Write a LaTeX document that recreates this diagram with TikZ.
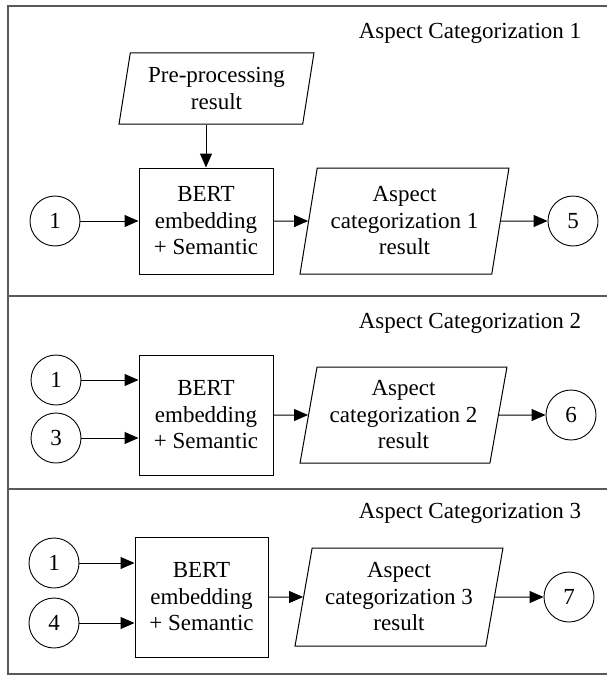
\documentclass[tikz,border=0pt]{standalone}
\usepackage{fontspec}
\setmainfont{Liberation Serif}
\usetikzlibrary{shapes.geometric,arrows.meta}
\begin{document}
\begin{tikzpicture}[x=1pt,y=-1pt,
  every node/.style={font=\fontsize{23}{26.5}\selectfont},
  proc/.style={draw, line width=1pt, rectangle, inner sep=0pt, align=center},
  io/.style={draw, line width=1pt, trapezium, trapezium left angle=78,
    trapezium right angle=102, trapezium stretches=true, inner sep=0pt, align=center},
  conn/.style={draw, circle, line width=0.9pt, minimum size=50pt, inner sep=0pt},
  arr/.style={line width=1pt, -{Triangle[length=14pt,width=12pt]}},
  frame/.style={line width=2pt, draw=black!65},
  ttl/.style={anchor=center, inner sep=0pt}
]
\useasboundingbox (0,0) rectangle (607,677);
% frame
\draw[frame] (607,6) -- (8,6) -- (8,674) -- (607,674);
\draw[frame] (8,296) -- (607,296);
\draw[frame] (8,489) -- (607,489);

% Section 1
\node[ttl] (t1) at (470,33) {Aspect Categorization 1};
\node[io, minimum width=195pt, minimum height=71pt] (pre) at (216.5,88.5) {Pre-processing\\result};
\node[proc, minimum width=134pt, minimum height=106pt] (box1) at (206,221) {BERT\\embedding\\+ Semantic};
\node[io, minimum width=209pt, minimum height=106pt] (para1) at (404.5,221) {Aspect\\categorization 1\\result};
\node[conn] (c11) at (55,221) {1};
\node[conn] (c5) at (573,221) {5};
\draw[arr] (pre.south -| box1) -- (box1);
\draw[arr] (c11) -- (box1);
\draw[arr] (box1) -- (para1);
\draw[arr] (para1) -- (c5);

% Section 2
\node[ttl] (t2) at (470,323) {Aspect Categorization 2};
\node[proc, minimum width=134pt, minimum height=120pt] (box2) at (206,415) {BERT\\embedding\\+ Semantic};
\node[io, minimum width=207pt, minimum height=96pt] (para2) at (403.5,415) {Aspect\\categorization 2\\result};
\node[conn] (c21) at (56,380) {1};
\node[conn] (c3) at (56,438) {3};
\node[conn] (c6) at (571,415) {6};
\draw[arr] (c21) -- (c21 -| box2.west);
\draw[arr] (c3) -- (c3 -| box2.west);
\draw[arr] (box2) -- (para2);
\draw[arr] (para2) -- (c6);

% Section 3
\node[ttl] (t3) at (470,513) {Aspect Categorization 3};
\node[proc, minimum width=133pt, minimum height=120pt] (box3) at (201.5,597) {BERT\\embedding\\+ Semantic};
\node[io, minimum width=208pt, minimum height=98pt] (para3) at (399,597) {Aspect\\categorization 3\\result};
\node[conn] (c31) at (54,563) {1};
\node[conn] (c4) at (54,623) {4};
\node[conn] (c7) at (569,597) {7};
\draw[arr] (c31) -- (c31 -| box3.west);
\draw[arr] (c4) -- (c4 -| box3.west);
\draw[arr] (box3) -- (para3);
\draw[arr] (para3) -- (c7);
\end{tikzpicture}
\end{document}
